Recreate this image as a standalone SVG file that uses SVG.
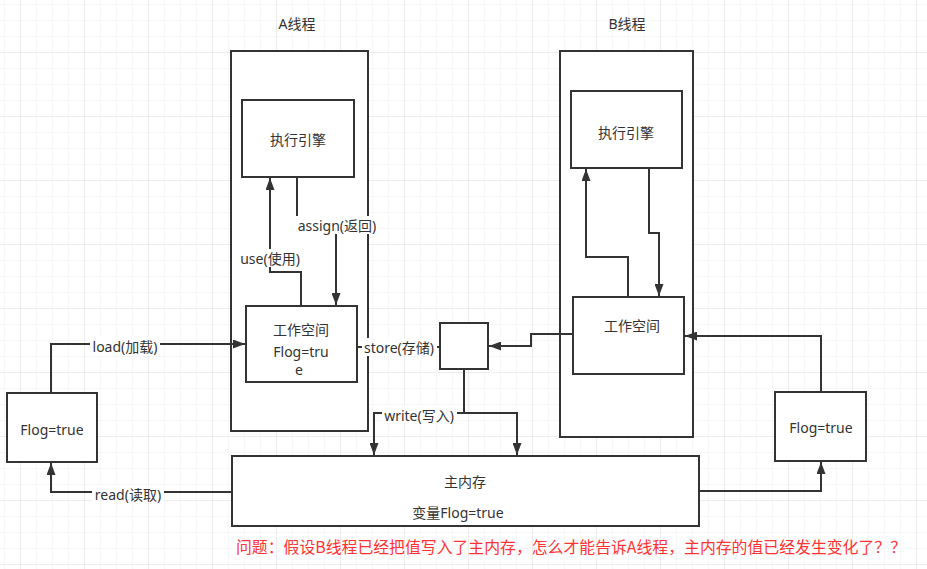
<svg xmlns="http://www.w3.org/2000/svg" width="927" height="569" viewBox="0 0 927 569">
<defs>
<pattern id="minor" x="4" y="4" width="16" height="16" patternUnits="userSpaceOnUse">
<path d="M0 0H16M0 0V16" fill="none" stroke="#f0f0f0" stroke-width="1"/>
</pattern>
<pattern id="major" x="20" y="52" width="64" height="64" patternUnits="userSpaceOnUse">
<path d="M0 0H64M0 0V64" fill="none" stroke="#e2e2e2" stroke-width="1"/>
</pattern>
<marker id="arr" viewBox="0 0 12 9" refX="12" refY="4.5" markerWidth="6" markerHeight="4.5" orient="auto" markerUnits="strokeWidth">
<path d="M0 0L12 4.5L0 9Z" fill="#333"/>
</marker>
</defs>
<style>
.box{fill:#fff;stroke:#333;stroke-width:2}
.c{fill:none;stroke:#333;stroke-width:2}
.ca{fill:none;stroke:#333;stroke-width:2;marker-end:url(#arr)}
text{font-family:"Noto Sans","Noto Sans CJK SC",sans-serif;font-size:14px;fill:#333;text-anchor:middle;dominant-baseline:central}
.lb{fill:#fff}
.red{fill:#ff3333;font-size:16px;text-anchor:start;font-family:"Noto Sans CJK SC",sans-serif}
</style>
<rect width="927" height="569" fill="#fff"/>
<rect width="927" height="569" fill="url(#minor)"/>
<rect width="927" height="569" fill="url(#major)"/>

<g id="threadA">
<rect class="box" x="231" y="51" width="137" height="380"/>
<text x="297" y="23">A线程</text>
</g>
<g id="threadB">
<rect class="box" x="560" y="51" width="133" height="386"/>
<text x="627" y="23">B线程</text>
</g>
<g id="engineA">
<rect class="box" x="242" y="100" width="112" height="77"/>
<text x="298" y="139">执行引擎</text>
</g>
<g id="workA">
<rect class="box" x="246" y="306" width="111" height="76"/>
<text x="301" y="329">工作空间</text>
<text x="301" y="351">Flog=tru</text>
<text x="299" y="369">e</text>
</g>
<g id="engineB">
<rect class="box" x="571" y="91" width="111" height="77"/>
<text x="626" y="132">执行引擎</text>
</g>
<g id="workB">
<rect class="box" x="573" y="297" width="111" height="77"/>
<text x="632" y="325">工作空间</text>
</g>
<g id="buffer">
<rect class="box" x="440" y="323" width="48" height="46"/>
</g>
<g id="flogLeft">
<rect class="box" x="7" y="393" width="90" height="69"/>
<text x="52" y="429">Flog=true</text>
</g>
<g id="flogRight">
<rect class="box" x="775" y="392" width="91" height="69"/>
<text x="821" y="427">Flog=true</text>
</g>
<g id="mainMem">
<rect class="box" x="232" y="456" width="467" height="70"/>
<text x="465" y="481">主内存</text>
<text x="458" y="512">变量Flog=true</text>
</g>

<g id="connectors">
<path class="ca" d="M301 306V272H270V178"/>
<path class="ca" d="M297 177V225H336V305"/>
<path class="ca" d="M51 393V344H245"/>
<path class="ca" d="M232 492H51V463"/>
<path class="c" d="M357 347H440"/>
<path class="ca" d="M464 369V413H374V455"/>
<path class="ca" d="M464 413H517V455"/>
<path class="ca" d="M573 334H531V346H489"/>
<path class="ca" d="M628 297V257H586V169"/>
<path class="ca" d="M649 168V233H659V296"/>
<path class="ca" d="M699 491H821V462"/>
<path class="ca" d="M821 392V336H685"/>
<rect class="lb" x="240" y="249" width="63" height="18"/>
<text x="270" y="258">use(使用)</text>
<rect class="lb" x="296" y="216" width="82" height="18"/>
<text x="337" y="225">assign(返回)</text>
<rect class="lb" x="90" y="337" width="70" height="18"/>
<text x="125" y="346">load(加载)</text>
<rect class="lb" x="92" y="485" width="72" height="18"/>
<text x="128" y="494">read(读取)</text>
<rect class="lb" x="362" y="338" width="75" height="18"/>
<text x="399" y="347">store(存储)</text>
<rect class="lb" x="382" y="405" width="75" height="18"/>
<text x="419" y="415">write(写入)</text>
</g>
<text class="red" x="236" y="546" textLength="670" lengthAdjust="spacingAndGlyphs">问题：假设B线程已经把值写入了主内存，怎么才能告诉A线程，主内存的值已经发生变化了？？</text>
</svg>
